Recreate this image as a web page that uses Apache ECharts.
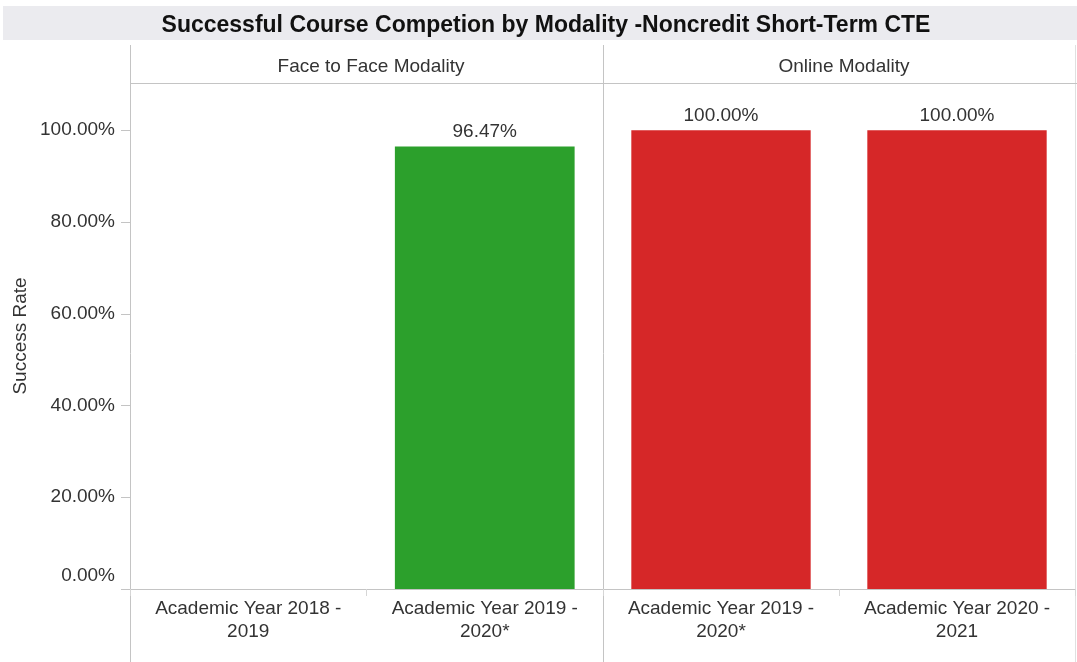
<!DOCTYPE html>
<html>
<head>
<meta charset="utf-8">
<script src="https://cdn.jsdelivr.net/npm/echarts@6/dist/echarts.min.js"></script>
<style>
  html, body { margin: 0; padding: 0; background: #fff; }
  #chart { width: 1077px; height: 662px; }
</style>
</head>
<body>
<div id="chart"></div>
<script>
// facet headers and categories
const facets = ['Face to Face Modality', 'Online Modality']
const faceCategories = ['Academic Year 2018 - 2019', 'Academic Year 2019 - 2020*']
const onlineCategories = ['Academic Year 2019 - 2020*', 'Academic Year 2020 - 2021']

// success rate, percent (null = no course that year)
const faceValues = [null, 96.47]
const onlineValues = [100, 100]

// y tick labels
const yTicks = [0, 20, 40, 60, 80, 100]

const FONT = '"Liberation Sans", Arial, sans-serif'
const TEXT = '#333'
const LINE = '#c4c4c4'

const chart = echarts.init(document.getElementById('chart'), null, { renderer: 'canvas' })

function pct(v) {
  return v.toFixed(2) + '%'
}

function wrapCategory(name) {
  return name.replace(' - ', ' -\n')
}

const gridTop = 83
const gridBottom = 662 - 589
const yMax = 110.3

function xAxisFor(gridIndex, data) {
  return {
    type: 'category',
    gridIndex,
    data,
    axisLine: { show: true, lineStyle: { color: LINE, width: 1 } },
    axisTick: { show: true, interval: 0, length: 7, lineStyle: { color: '#d6d6d6' } },
    axisLabel: {
      interval: 0,
      margin: 8,
      fontFamily: FONT,
      fontSize: 19,
      lineHeight: 23,
      color: TEXT,
      formatter: wrapCategory,
    },
    splitLine: { show: false },
  }
}

function yAxisFor(gridIndex, showLabels) {
  return {
    type: 'value',
    gridIndex,
    min: 0,
    max: yMax,
    interval: 20,
    splitLine: { show: false },
    axisLine: { show: false },
    axisTick: {
      show: showLabels,
      length: 9,
      customValues: yTicks,
      lineStyle: { color: LINE },
    },
    axisLabel: {
      show: showLabels,
      customValues: yTicks,
      margin: 15,
      fontFamily: FONT,
      fontSize: 19,
      color: TEXT,
      formatter: (v) => (v === 0 ? '{z|' + pct(v) + '}' : pct(v)),
      rich: {
        z: { fontFamily: FONT, fontSize: 19, color: TEXT, padding: [0, 0, 26, 0] },
      },
    },
    name: showLabels ? 'Success Rate' : '',
    nameLocation: 'middle',
    nameGap: 100,
    nameTextStyle: { fontFamily: FONT, fontSize: 19, color: TEXT },
  }
}

function barSeries(axisIndex, data, color) {
  return {
    type: 'bar',
    xAxisIndex: axisIndex,
    yAxisIndex: axisIndex,
    data,
    barWidth: '76%',
    itemStyle: { color },
    label: {
      show: true,
      position: 'top',
      distance: 5,
      fontFamily: FONT,
      fontSize: 19,
      color: TEXT,
      formatter: (p) => pct(p.value),
    },
    silent: true,
  }
}

chart.setOption({
  animation: false,
  backgroundColor: '#fff',
  title: [
    {
      text: 'Successful Course Competion by Modality -Noncredit Short-Term CTE',
      left: 541,
      top: 9,
      textAlign: 'center',
      textStyle: { fontFamily: FONT, fontSize: 23, fontWeight: 'bold', color: '#111' },
    },
    {
      text: facets[0],
      left: 366,
      top: 52,
      textAlign: 'center',
      textStyle: { fontFamily: FONT, fontSize: 19, fontWeight: 'normal', color: TEXT },
    },
    {
      text: facets[1],
      left: 839,
      top: 52,
      textAlign: 'center',
      textStyle: { fontFamily: FONT, fontSize: 19, fontWeight: 'normal', color: TEXT },
    },
  ],
  graphic: [
    { type: 'rect', z: -10, shape: { x: 3, y: 6, width: 1074, height: 34 }, style: { fill: '#ebebef' } },
    { type: 'line', shape: { x1: 130.5, y1: 45, x2: 130.5, y2: 662 }, style: { stroke: LINE, lineWidth: 1 } },
    { type: 'line', shape: { x1: 603.5, y1: 45, x2: 603.5, y2: 662 }, style: { stroke: LINE, lineWidth: 1 } },
    { type: 'line', shape: { x1: 1075.5, y1: 45, x2: 1075.5, y2: 662 }, style: { stroke: '#e0e0e0', lineWidth: 1 } },
    { type: 'line', shape: { x1: 130, y1: 83.5, x2: 1077, y2: 83.5 }, style: { stroke: LINE, lineWidth: 1 } },
  ],
  grid: [
    { left: 130, width: 473, top: gridTop, bottom: gridBottom },
    { left: 603, width: 472, top: gridTop, bottom: gridBottom },
  ],
  xAxis: [xAxisFor(0, faceCategories), xAxisFor(1, onlineCategories)],
  yAxis: [yAxisFor(0, true), yAxisFor(1, false)],
  series: [
    barSeries(0, faceValues, '#2ca02c'),
    barSeries(1, onlineValues, '#d62728'),
  ],
})

window.addEventListener('resize', () => chart.resize())
</script>
</body>
</html>
